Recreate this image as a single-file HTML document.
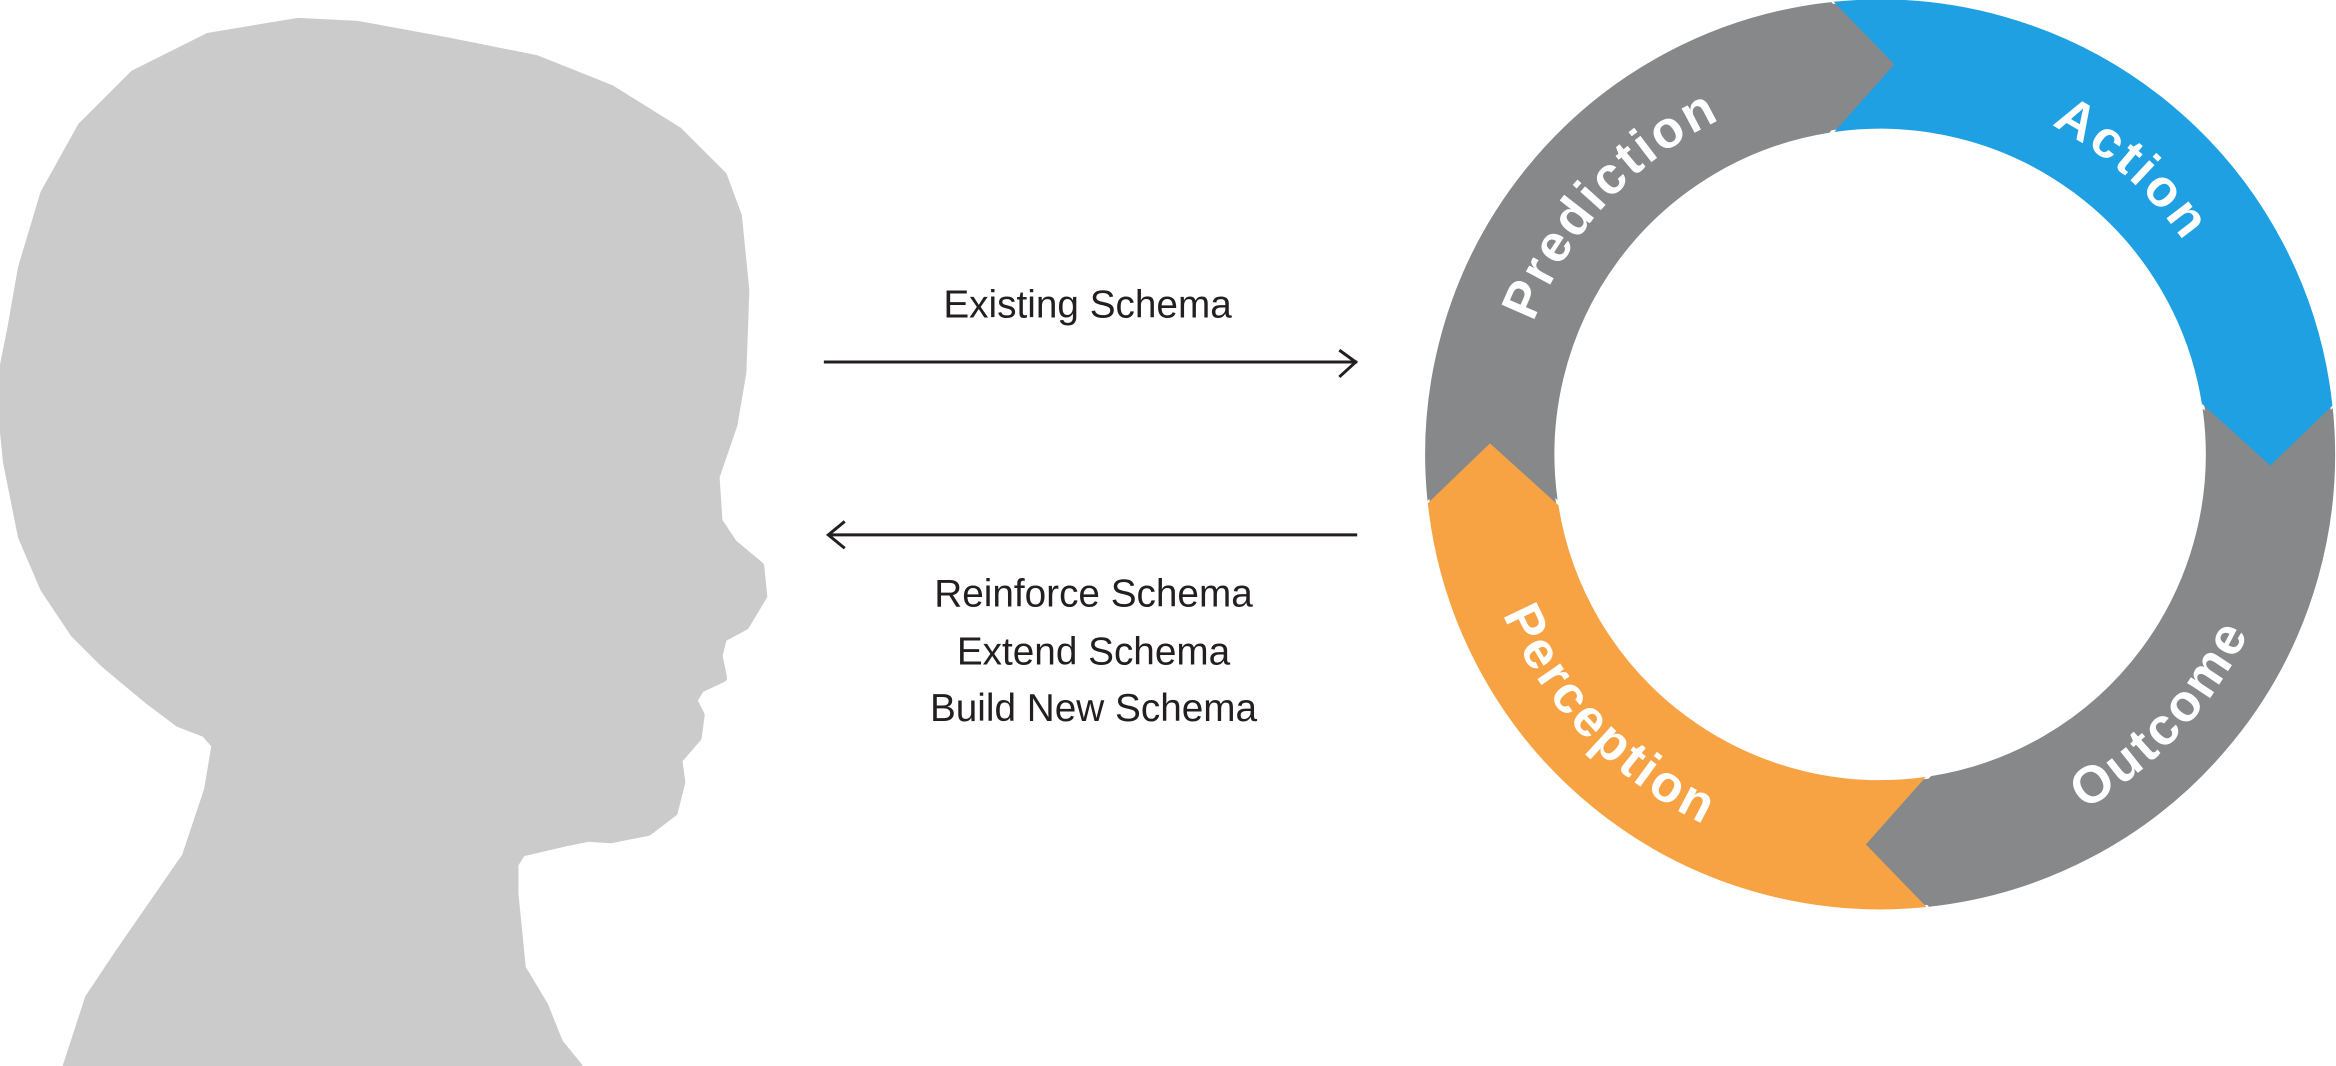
<!DOCTYPE html>
<html><head><meta charset="utf-8"><style>
html,body{margin:0;padding:0;background:#fff;}
svg{display:block}
</style></head><body>
<svg width="2336" height="1066" viewBox="0 0 1568 715.5" xmlns="http://www.w3.org/2000/svg">
<path fill="#cbcbcb" stroke="#cbcbcb" stroke-width="6" stroke-linejoin="round" d="M45,716 L60,670 L80,640 L125,575 L140,530 L145,500 L138,492 L120,485 L100,470 L70,445 L50,425 L30,395 L15,360 L5,310 L0,260 L8,220 L15,180 L30,130 L55,85 L90,50 L140,25 L200,15 L240,17 L300,28 L360,40 L410,60 L455,88 L485,118 L495,145 L500,195 L498,250 L492,285 L480,320 L482,350 L492,365 L510,380 L512,400 L500,420 L485,428 L482,440 L485,455 L470,462 L465,470 L470,480 L468,495 L455,510 L457,525 L452,545 L435,558 L410,563 L395,562 L380,565 L350,572 L345,580 L345,600 L350,650 L365,675 L375,700 L388,716 Z"/>
<g stroke="#231f20" stroke-width="2" fill="none">
<line x1="553" y1="243" x2="911" y2="243"/>
<polyline points="899,235 910,243 899,253"/>
<line x1="556" y1="359" x2="911" y2="359"/>
<polyline points="567,350 556,359 567,368"/>
</g>
<g font-family="Liberation Sans, sans-serif" font-size="26" fill="#231f20" text-anchor="middle">
<text x="730" y="213">Existing Schema</text>
<text x="734" y="407">Reinforce Schema</text>
<text x="734" y="446">Extend Schema</text>
<text x="734" y="484">Build New Schema</text>
</g>
<g transform="translate(1262,305)">
<defs>
<path id="seg" d="M-30.3,-303.5 A305,305 0 0 1 303.2,-32.9 L261.9,6.9 L216.3,-34.3 A219,219 0 0 0 -29.7,-217 L10.1,-261.8 Z"/>
<path id="cw" d="M249,0 A249,249 0 1 1 -249,0 A249,249 0 1 1 249,0"/>
<path id="ccw" d="M275,0 A275,275 0 1 0 -275,0 A275,275 0 1 0 275,0"/>
</defs>
<circle r="262" fill="none" stroke="#87888a" stroke-width="84"/>
<use href="#seg" fill="#1ea0e3" stroke="#1ea0e3" stroke-width="0.8"/>
<use href="#seg" fill="#87888a" stroke="#87888a" stroke-width="0.8" transform="rotate(90)"/>
<use href="#seg" fill="#f7a344" stroke="#f7a344" stroke-width="0.8" transform="rotate(180)"/>
<use href="#seg" fill="#87888a" stroke="#87888a" stroke-width="0.8" transform="rotate(270)"/>
<g font-family="Liberation Sans, sans-serif" font-weight="bold" font-size="35" fill="#fff" letter-spacing="2" text-anchor="middle">
<text><textPath href="#cw" startOffset="61.9%">Prediction</textPath></text>
<text><textPath href="#cw" startOffset="86.5%">Action</textPath></text>
<text><textPath href="#ccw" startOffset="88.1%">Outcome</textPath></text>
<text><textPath href="#ccw" startOffset="62.2%">Perception</textPath></text>
</g>
</g>
</svg>
</body></html>
